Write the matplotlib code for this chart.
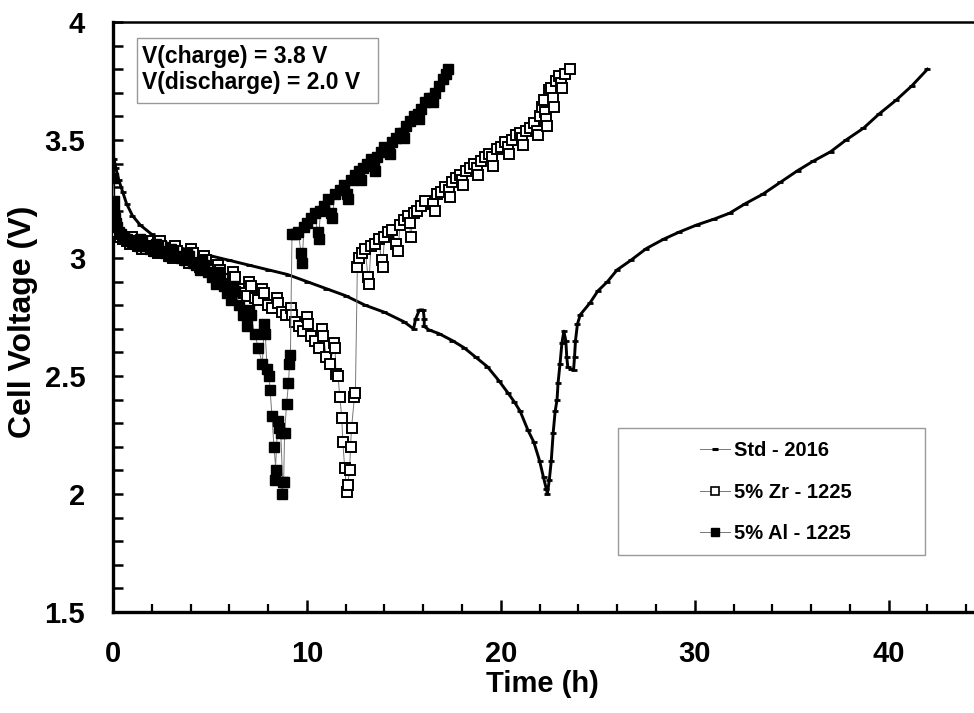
import matplotlib
matplotlib.use("Agg")
import matplotlib.pyplot as plt
from matplotlib.lines import Line2D
from matplotlib.patches import Rectangle
from matplotlib.ticker import MultipleLocator

plt.rcParams['font.family'] = ['Liberation Sans', 'DejaVu Sans']
plt.rcParams['font.weight'] = 'bold'

# Std - 2016 (time h, cell voltage V)
std_t = [0.05, 0.15, 0.3, 0.5, 0.7, 1.0, 1.4, 2.0, 2.6, 3.2, 4.0, 5.0, 6.0, 7.0, 8.0, 9.0,
         10.0, 11.0, 12.0, 13.0, 14.0, 15.0, 15.5,
         15.6, 15.8, 16.0, 16.05, 16.05, 16.3, 16.8, 17.5, 18.1, 18.7, 19.3, 19.9, 20.35,
         20.7, 21.0, 21.4, 21.7, 22.0, 22.2, 22.35, 22.4,
         22.5, 22.6, 22.7, 22.8, 22.9, 22.95, 23.05, 23.15, 23.25, 23.35, 23.4, 23.45,
         23.6, 23.75, 23.8, 23.85, 23.95, 24.1, 24.6, 25.0, 25.5, 26.0, 26.7, 27.5,
         28.4, 29.2, 30.1, 31.0, 31.8, 32.6, 33.5, 34.4, 35.3, 36.1, 37.0, 37.8,
         38.7, 39.5, 40.4, 41.2, 42.0]
std_v = [3.42, 3.38, 3.33, 3.28, 3.23, 3.18, 3.14, 3.10, 3.07, 3.05, 3.03, 3.01, 2.99, 2.97, 2.95, 2.93,
         2.90, 2.87, 2.84, 2.80, 2.77, 2.73, 2.70,
         2.74, 2.78, 2.78, 2.74, 2.71, 2.695, 2.68, 2.65, 2.62, 2.58, 2.54, 2.48, 2.43,
         2.39, 2.35, 2.27, 2.22, 2.14, 2.07, 2.02, 2.00,
         2.06, 2.14, 2.26, 2.35, 2.40, 2.47, 2.55, 2.64, 2.69, 2.65, 2.58, 2.54,
         2.53, 2.525, 2.58, 2.65, 2.72, 2.76, 2.81, 2.86, 2.90, 2.95, 2.99, 3.04,
         3.08, 3.11, 3.14, 3.165, 3.19, 3.23, 3.27, 3.32, 3.37, 3.41, 3.45, 3.50,
         3.55, 3.61, 3.67, 3.73, 3.80]

# 5% Zr - 1225
zr_t = [0.0, 0.05, 0.1, 0.2, 0.35, 0.5, 0.7, 0.9, 1.0, 1.1, 1.3, 1.5, 1.7, 1.8, 1.9, 2.1, 2.3,
        2.4, 2.5, 2.7, 2.9, 3.1, 3.2, 3.3, 3.5, 3.7, 3.9, 4.0, 4.1, 4.3, 4.5, 4.7, 4.8,
        5.0, 5.2, 5.4, 5.5, 5.7, 5.9, 6.1, 6.2, 6.3, 6.5, 6.7, 6.9, 7.0, 7.1, 7.3, 7.5,
        7.7, 7.8, 8.0, 8.2, 8.45, 8.5, 8.7, 8.9, 9.2, 9.25, 9.4, 9.6, 9.8, 10.0, 10.05,
        10.2, 10.4, 10.6, 10.8, 10.85, 11.0, 11.2, 11.4, 11.45, 11.5, 11.6, 11.7, 11.8,
        11.85, 11.95, 12.05,
        12.1, 12.2, 12.25, 12.3, 12.45, 12.5,
        12.6, 12.7, 12.85, 13.0, 13.15, 13.2, 13.3, 13.5, 13.7, 13.85, 13.9, 14.0, 14.2,
        14.4, 14.6, 14.7, 14.8, 15.0, 15.2, 15.3, 15.35, 15.5, 15.7, 15.9, 16.1, 16.5,
        16.6, 16.7, 16.9, 17.1, 17.35, 17.4, 17.5, 17.7, 17.9, 18.0, 18.05, 18.2, 18.4,
        18.6, 18.75, 18.8, 19.0, 19.2, 19.4, 19.55, 19.6, 19.8, 20.0, 20.2, 20.35, 20.4,
        20.6, 20.8, 21.0, 21.1, 21.15, 21.3, 21.5, 21.7, 21.85, 21.9, 22.0, 22.1, 22.2,
        22.3, 22.35, 22.4, 22.5, 22.6, 22.7, 22.75, 22.85, 23.0, 23.1, 23.15, 23.3, 23.55]
zr_v = [3.20, 3.16, 3.13, 3.11, 3.09, 3.08, 3.07, 3.06, 3.09, 3.07, 3.05, 3.04, 3.04, 3.07, 3.05, 3.03, 3.02,
        3.07, 3.05, 3.02, 3.01, 3.00, 3.05, 3.03, 3.00, 2.99, 2.98, 3.04, 3.02, 2.98, 2.96, 3.01, 2.99,
        2.95, 2.93, 2.97, 2.95, 2.91, 2.89, 2.88, 2.94, 2.92, 2.87, 2.85, 2.84, 2.90, 2.88, 2.83, 2.82,
        2.87, 2.85, 2.80, 2.79, 2.83, 2.81, 2.77, 2.76, 2.79, 2.76, 2.73, 2.71, 2.69, 2.75, 2.72,
        2.67, 2.65, 2.62, 2.70, 2.67, 2.58, 2.55, 2.64, 2.62, 2.51, 2.50, 2.41, 2.32,
        2.22, 2.11, 2.01,
        2.04, 2.10, 2.20, 2.28, 2.41, 2.43,
        2.96, 3.00, 3.02, 3.04, 2.92, 2.89, 3.05, 3.06, 3.08, 2.99, 2.96, 3.09, 3.11,
        3.12, 3.06, 3.03, 3.14, 3.16, 3.18, 3.15, 3.09, 3.19, 3.20, 3.22, 3.24, 3.23,
        3.20, 3.27, 3.28, 3.30, 3.29, 3.26, 3.32, 3.34, 3.35, 3.33, 3.31, 3.37, 3.38,
        3.40, 3.38, 3.35, 3.41, 3.43, 3.44, 3.43, 3.39, 3.46, 3.47, 3.49, 3.47, 3.44,
        3.50, 3.52, 3.53, 3.51, 3.48, 3.54, 3.55, 3.57, 3.54, 3.52, 3.60, 3.64, 3.67,
        3.62, 3.59, 3.56, 3.71, 3.72, 3.68, 3.64, 3.75, 3.77, 3.74, 3.72, 3.78, 3.80]

# 5% Al - 1225
al_t = [0.0, 0.03, 0.06, 0.1, 0.15, 0.22, 0.3, 0.4, 0.55, 0.7, 0.85, 1.0, 1.2, 1.35, 1.4, 1.5,
        1.7, 1.9, 2.1, 2.2, 2.3, 2.5, 2.7, 2.9, 3.0, 3.1, 3.3, 3.5, 3.7, 3.8, 3.9, 4.1,
        4.3, 4.5, 4.6, 4.7, 4.9, 5.1, 5.3, 5.4, 5.5, 5.7, 5.9, 6.1, 6.2, 6.3, 6.5, 6.7,
        6.9, 7.0, 7.1, 7.3, 7.5, 7.7, 7.8, 7.85, 7.95, 8.05, 8.1, 8.2, 8.3, 8.4, 8.35,
        8.5, 8.55, 8.65, 8.75, 8.7,
        8.8, 8.85, 8.95, 9.05, 9.1, 9.15,
        9.23, 9.4, 9.55, 9.7, 9.75, 9.85, 10.0, 10.2, 10.4, 10.55, 10.6, 10.7, 10.9,
        11.1, 11.25, 11.3, 11.45, 11.7, 11.9, 12.05, 12.1, 12.25, 12.5, 12.7, 12.8, 12.9,
        13.1, 13.3, 13.45, 13.5, 13.6, 13.8, 14.0, 14.25, 14.3, 14.4, 14.6, 14.8, 14.95,
        15.0, 15.1, 15.3, 15.5, 15.75, 15.8, 15.9, 16.1, 16.3, 16.45, 16.5, 16.6, 16.8,
        17.0, 17.15, 17.3]
al_v = [3.34, 3.24, 3.20, 3.17, 3.15, 3.13, 3.11, 3.10, 3.09, 3.08, 3.07, 3.065, 3.06, 3.05, 3.08, 3.07,
        3.05, 3.04, 3.03, 3.06, 3.05, 3.03, 3.02, 3.01, 3.04, 3.03, 3.01, 3.00, 2.99, 3.02, 3.01, 2.98,
        2.97, 2.95, 2.99, 2.97, 2.94, 2.92, 2.89, 2.94, 2.92, 2.88, 2.85, 2.82, 2.88, 2.86, 2.80, 2.76,
        2.71, 2.78, 2.76, 2.68, 2.62, 2.55, 2.72, 2.68, 2.53, 2.50, 2.44, 2.33, 2.20, 2.10, 2.06,
        2.31, 2.28, 2.26, 2.05, 2.00,
        2.05, 2.26, 2.38, 2.47, 2.55, 2.59,
        3.10, 3.10, 3.11, 3.02, 2.98, 3.13, 3.15, 3.17, 3.19, 3.11, 3.08, 3.20, 3.22,
        3.25, 3.19, 3.17, 3.27, 3.29, 3.31, 3.27, 3.25, 3.33, 3.35, 3.37, 3.33, 3.38,
        3.40, 3.42, 3.39, 3.37, 3.43, 3.45, 3.47, 3.46, 3.44, 3.49, 3.51, 3.53, 3.53,
        3.51, 3.56, 3.58, 3.60, 3.61, 3.59, 3.63, 3.66, 3.68, 3.68, 3.66, 3.70, 3.73,
        3.76, 3.78, 3.80]

labels = ['Std - 2016', '5% Zr - 1225', '5% Al - 1225']

fig = plt.figure(figsize=(9.74, 7.13), dpi=100)
ax = fig.add_axes([113 / 974, 101 / 713, 861 / 974, 590 / 713])

ax.plot(std_t, std_v, color='black', lw=2.1, marker='_', ms=5, mew=2.0, zorder=3)
ax.plot(zr_t, zr_v, color='#777777', lw=0.7, marker='s', ms=6.5,
        mfc='white', mec='black', mew=1.4, zorder=4)
ax.plot(al_t, al_v, color='#777777', lw=0.7, marker='s', ms=6.5,
        mfc='black', mec='black', mew=1.0, zorder=5)

ax.set_xlim(0, 44.4)
ax.set_ylim(1.5, 4.0)
ax.xaxis.set_major_locator(MultipleLocator(10))
ax.xaxis.set_minor_locator(MultipleLocator(2))
ax.yaxis.set_minor_locator(MultipleLocator(0.1))
ax.set_yticks([1.5, 2, 2.5, 3, 3.5, 4])
ax.set_yticklabels(['1.5', '2', '2.5', '3', '3.5', '4'])

for s in ['left', 'bottom']:
    ax.spines[s].set_linewidth(2.4)
ax.spines['top'].set_linewidth(1.8)
ax.spines['right'].set_visible(False)

ax.tick_params(axis='x', which='major', direction='in', length=9, width=1.8, pad=20,
               labelsize=21, top=False)
ax.tick_params(axis='x', which='minor', direction='in', length=6, width=1.6, top=False)
ax.tick_params(axis='y', which='both', direction='in', length=7, width=1.8, right=False)
ax.tick_params(axis='y', which='major', pad=20, labelsize=21)
for lab in ax.get_xticklabels() + ax.get_yticklabels():
    lab.set_fontweight('bold')

fig.text(542 / 974, 1 - 684 / 713, 'Time (h)', ha='center', va='center',
         fontsize=21, fontweight='bold')
fig.text(23 / 974, 1 - 322 / 713, 'Cell Voltage (V)', ha='center', va='center',
         rotation=90, fontsize=23, fontweight='bold')

# condition box
ax.add_patch(Rectangle((24 / 861, 509 / 590), 241 / 861, 65 / 590, transform=ax.transAxes,
                       fc='white', ec='#999999', lw=1, zorder=6))
ax.text(29 / 861, (612 - 57) / 590, 'V(charge) = 3.8 V', transform=ax.transAxes,
        ha='left', va='center', fontsize=16.5, fontweight='bold', zorder=7)
ax.text(29 / 861, (612 - 82) / 590, 'V(discharge) = 2.0 V', transform=ax.transAxes,
        ha='left', va='center', fontsize=16.5, fontweight='bold', zorder=7)

# legend frame and entries
ax.add_patch(Rectangle((505 / 861, 57 / 590), 307 / 861, 127 / 590, transform=ax.transAxes,
                       fc='white', ec='#999999', lw=1, zorder=6))
handles = [
    Line2D([], [], color='#777777', lw=0.7, marker='_', ms=4, mew=2.2, mec='black'),
    Line2D([], [], color='#777777', lw=0.7, marker='s', ms=6, mfc='white', mec='black', mew=1.2),
    Line2D([], [], color='#777777', lw=0.7, marker='s', ms=6, mfc='black', mec='black'),
]
leg = ax.legend(handles, labels, loc='upper left',
                bbox_to_anchor=((700 - 113) / 861, (612 - 441) / 590),
                frameon=False, prop={'weight': 'bold', 'size': 14.5},
                handlelength=1.5, handletextpad=0.2, labelspacing=1.12,
                borderpad=0, borderaxespad=0)
leg.set_zorder(8)

fig.savefig('out.png', dpi=100)
